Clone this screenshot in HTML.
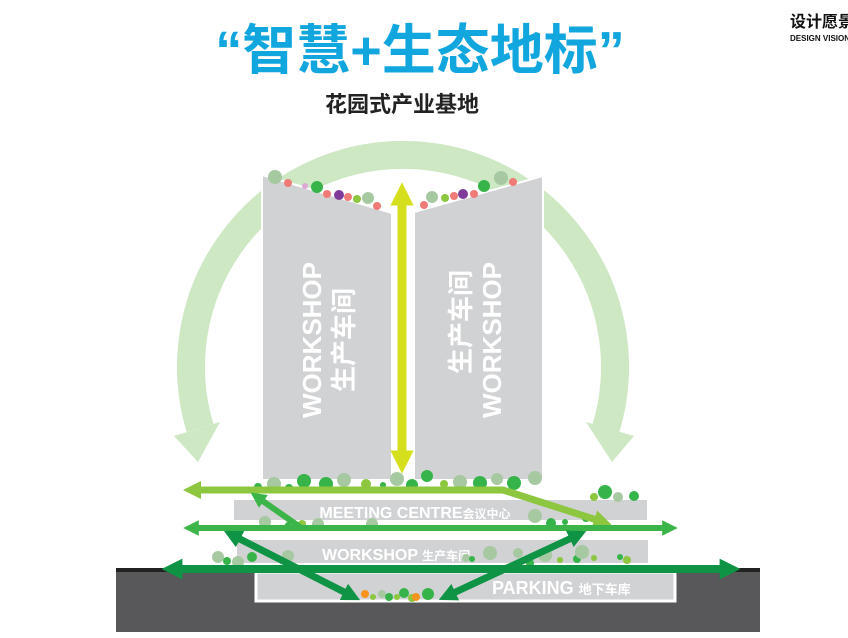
<!DOCTYPE html>
<html><head><meta charset="utf-8"><style>
body{margin:0;background:#fff;width:848px;height:638px;overflow:hidden}
svg{display:block}
text{font-family:"Liberation Sans","Noto Sans CJK SC",sans-serif;font-weight:bold}
</style></head><body>
<svg width="848" height="638" viewBox="0 0 848 638" xmlns="http://www.w3.org/2000/svg">
<defs>
<marker id="ah" viewBox="0 0 10 10" refX="5" refY="5" markerWidth="2.6" markerHeight="2.6" orient="auto-start-reverse"><path d="M0,0L10,5L0,10z" fill="context-stroke"/></marker>
</defs>
<text x="420" y="69" text-anchor="middle" font-size="54" fill="#12a6df">“智慧+生态地标”</text>
<text x="402" y="112" text-anchor="middle" font-size="22" fill="#222">花园式产业基地</text>
<text x="790" y="27" font-size="16" fill="#111">设计愿景</text>
<text x="790" y="41" font-size="8" fill="#111" font-weight="normal">DESIGN VISION</text>
<!-- arc -->
<path d="M200,428 A212,212 0 1 1 606,428" fill="none" stroke="#cde8c3" stroke-width="28"/>
<path d="M174,436 L220,422 L198,462z" fill="#cde8c3"/>
<path d="M586,422 L634,436 L612,462z" fill="#cde8c3"/>
<!-- ground -->
<rect x="116" y="570" width="644" height="62" fill="#58585a"/>
<rect x="116" y="568" width="644" height="4" fill="#222"/>
<!-- buildings -->
<polygon points="262,175 392,213 392,480 262,480" fill="#d1d2d4" stroke="#fff" stroke-width="2"/>
<polygon points="414,212 543,176 543,480 414,480" fill="#d1d2d4" stroke="#fff" stroke-width="2"/>
<g fill="#fff" font-size="26">
<text transform="translate(321,340) rotate(-90)" text-anchor="middle">WORKSHOP</text>
<text transform="translate(353,340) rotate(-90)" text-anchor="middle">生产车间</text>
<text transform="translate(470,322) rotate(-90)" text-anchor="middle">生产车间</text>
<text transform="translate(501,340) rotate(-90)" text-anchor="middle">WORKSHOP</text>
</g>
<g>
<circle cx="275" cy="177" r="7" fill="#a7c9a2"/><circle cx="288" cy="183" r="4" fill="#f07a75"/>
<circle cx="305" cy="186" r="3" fill="#dfa7d6"/><circle cx="317" cy="187" r="6" fill="#36b44a"/>
<circle cx="327" cy="194" r="4" fill="#f07a75"/><circle cx="339" cy="195" r="5" fill="#7e3b9a"/>
<circle cx="348" cy="197" r="4" fill="#f07a75"/><circle cx="357" cy="199" r="4" fill="#8dc63f"/>
<circle cx="368" cy="198" r="6" fill="#a7c9a2"/><circle cx="377" cy="206" r="4" fill="#f07a75"/>
<circle cx="424" cy="205" r="4" fill="#f07a75"/><circle cx="432" cy="197" r="6" fill="#a7c9a2"/>
<circle cx="445" cy="198" r="4" fill="#8dc63f"/><circle cx="454" cy="196" r="4" fill="#f07a75"/>
<circle cx="463" cy="194" r="5" fill="#7e3b9a"/><circle cx="474" cy="194" r="4" fill="#f07a75"/>
<circle cx="484" cy="186" r="6" fill="#36b44a"/><circle cx="501" cy="178" r="7" fill="#a7c9a2"/>
<circle cx="513" cy="182" r="4" fill="#f07a75"/>
</g>
<line x1="402" y1="194" x2="402" y2="462" stroke="#d5df1d" stroke-width="9" marker-start="url(#ah)" marker-end="url(#ah)"/>
<rect x="234" y="500" width="413" height="20" fill="#d1d2d4"/>
<rect x="237" y="540" width="411" height="23" fill="#d1d2d4"/>
<rect x="256" y="572" width="419" height="29" fill="#d1d2d4" stroke="#fff" stroke-width="3"/>
<text x="415" y="518" text-anchor="middle" font-size="16" fill="#fff">MEETING CENTRE<tspan font-size="12">会议中心</tspan></text>
<text x="322" y="560" font-size="16" fill="#fff">WORKSHOP <tspan font-size="12">生产车间</tspan></text>
<text x="492" y="594" font-size="18" fill="#fff">PARKING <tspan font-size="13">地下车库</tspan></text>
<g>
<circle cx="258" cy="487" r="4" fill="#36b44a"/><circle cx="274" cy="484" r="7" fill="#a7c9a2"/>
<circle cx="289" cy="488" r="4" fill="#36b44a"/><circle cx="304" cy="481" r="7" fill="#36b44a"/>
<circle cx="326" cy="484" r="7" fill="#36b44a"/><circle cx="344" cy="480" r="7" fill="#a7c9a2"/>
<circle cx="367" cy="487" r="3" fill="#36b44a"/><circle cx="383" cy="485" r="3" fill="#36b44a"/>
<circle cx="366" cy="484" r="5" fill="#8dc63f"/><circle cx="397" cy="479" r="7" fill="#a7c9a2"/>
<circle cx="412" cy="485" r="6" fill="#36b44a"/><circle cx="427" cy="476" r="6" fill="#36b44a"/>
<circle cx="444" cy="484" r="4" fill="#8dc63f"/><circle cx="460" cy="482" r="7" fill="#a7c9a2"/>
<circle cx="480" cy="483" r="7" fill="#36b44a"/><circle cx="497" cy="479" r="6" fill="#a7c9a2"/>
<circle cx="514" cy="483" r="7" fill="#36b44a"/><circle cx="535" cy="478" r="7" fill="#a7c9a2"/>
<circle cx="594" cy="497" r="4" fill="#8dc63f"/><circle cx="605" cy="492" r="7" fill="#36b44a"/>
<circle cx="618" cy="497" r="5" fill="#a7c9a2"/><circle cx="634" cy="496" r="5" fill="#36b44a"/>
<circle cx="265" cy="522" r="6" fill="#a7c9a2"/><circle cx="288" cy="525" r="3" fill="#36b44a"/>
<circle cx="302" cy="524" r="4" fill="#8dc63f"/><circle cx="318" cy="524" r="6" fill="#a7c9a2"/>
<circle cx="372" cy="524" r="6" fill="#a7c9a2"/>
<circle cx="535" cy="516" r="7" fill="#a7c9a2"/><circle cx="551" cy="523" r="5" fill="#36b44a"/>
<circle cx="565" cy="522" r="3" fill="#36b44a"/><circle cx="218" cy="557" r="6" fill="#a7c9a2"/>
<circle cx="227" cy="561" r="4" fill="#36b44a"/>
<circle cx="238" cy="562" r="6" fill="#a7c9a2"/><circle cx="252" cy="557" r="5" fill="#36b44a"/>
<circle cx="288" cy="556" r="6" fill="#a7c9a2"/><circle cx="282" cy="560" r="3" fill="#36b44a"/>
<circle cx="466" cy="558" r="4" fill="#a7c9a2"/><circle cx="472" cy="559" r="3" fill="#36b44a"/>
<circle cx="490" cy="553" r="7" fill="#a7c9a2"/><circle cx="518" cy="553" r="5" fill="#a7c9a2"/>
<circle cx="530" cy="563" r="4" fill="#36b44a"/><circle cx="545" cy="555" r="7" fill="#a7c9a2"/>
<circle cx="560" cy="560" r="3" fill="#8dc63f"/><circle cx="577" cy="559" r="4" fill="#36b44a"/>
<circle cx="582" cy="552" r="7" fill="#a7c9a2"/><circle cx="594" cy="558" r="3" fill="#8dc63f"/>
<circle cx="620" cy="557" r="3" fill="#36b44a"/><circle cx="627" cy="560" r="4" fill="#8dc63f"/>
<circle cx="586" cy="518" r="4" fill="#36b44a"/>
</g>
<g fill="none" stroke-linejoin="miter">
<path d="M192,490 L503,490 L603,522" stroke="#8dc63f" stroke-width="7" marker-start="url(#ah)" marker-end="url(#ah)"/>
<line x1="300" y1="527" x2="257" y2="497" stroke="#3bb54a" stroke-width="6" marker-end="url(#ah)"/>
<line x1="191" y1="528" x2="670" y2="528" stroke="#3bb54a" stroke-width="6" marker-start="url(#ah)" marker-end="url(#ah)"/>
<line x1="172" y1="569" x2="730" y2="569" stroke="#0e9444" stroke-width="8" marker-start="url(#ah)" marker-end="url(#ah)"/>
<line x1="232" y1="535" x2="352" y2="596" stroke="#0e9444" stroke-width="7" marker-start="url(#ah)" marker-end="url(#ah)"/>
<line x1="578" y1="535" x2="447" y2="596" stroke="#0e9444" stroke-width="7" marker-start="url(#ah)" marker-end="url(#ah)"/>
</g>
<g>
<circle cx="365" cy="594" r="4" fill="#f7941d"/><circle cx="373" cy="597" r="3" fill="#8dc63f"/>
<circle cx="382" cy="594" r="4" fill="#a7c9a2"/><circle cx="389" cy="597" r="4" fill="#36b44a"/>
<circle cx="397" cy="597" r="3" fill="#8dc63f"/><circle cx="404" cy="593" r="5" fill="#36b44a"/>
<circle cx="412" cy="598" r="4" fill="#8dc63f"/><circle cx="416" cy="597" r="4" fill="#f7941d"/>
<circle cx="428" cy="594" r="6" fill="#36b44a"/>
</g>
</svg>
</body></html>
